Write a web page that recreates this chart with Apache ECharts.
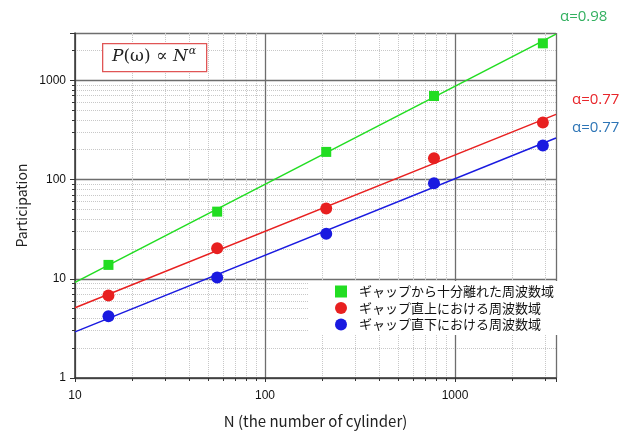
<!DOCTYPE html>
<html>
<head>
<meta charset="utf-8">
<script src="https://cdn.jsdelivr.net/npm/echarts@6/dist/echarts.min.js"></script>
<style>html,body{margin:0;padding:0;background:#fff;}#c{width:634px;height:434px;}</style>
</head>
<body>
<div id="c"></div>
<script>
// ---- data ----
var seriesNames = ['ギャップから十分離れた周波数域', 'ギャップ直上における周波数域', 'ギャップ直下における周波数域'];
var nValues = [15, 56, 210, 775, 2900];
var farValues = [13.8, 47.5, 190, 695, 2360];
var aboveValues = [6.8, 20.3, 51, 164, 375];
var belowValues = [4.2, 10.3, 28.5, 92, 220];
// fitted power-law lines (endpoints)
var fitN = [10, 3400];
var farFit = [9.2, 2920];
var aboveFit = [5.1, 454];
var belowFit = [2.92, 262];
var alphaLabels = ['α=0.98', 'α=0.77', 'α=0.77'];
var xTickValues = [10, 100, 1000];
var yTickValues = [1, 10, 100, 1000];

var colors = ['#22dd22', '#e82020', '#1a1ae0'];
var labelColors = ['#33b060', '#e8262b', '#2e75b6'];

function pairs(xs, ys) { return xs.map(function (x, i) { return [x, ys[i]]; }); }

var chart = echarts.init(document.getElementById('c'), null, {renderer: 'canvas'});
var axisFont = 'Liberation Sans, Arial, sans-serif';
var cjkFont = '"Noto Sans CJK JP", sans-serif';

var option = {
  backgroundColor: '#ffffff',
  animation: false,
  grid: {left: 75, right: 78, top: 33, bottom: 50, containLabel: false},
  xAxis: {
    type: 'log', logBase: 10, min: 10, max: 3400,
    name: 'N (the number of cylinder)', nameLocation: 'middle', nameGap: 36,
    nameTextStyle: {fontFamily: cjkFont, fontSize: 15, color: '#222'},
    axisLine: {show: true, lineStyle: {color: '#333', width: 1.5}},
    axisTick: {show: true, inside: false, length: 4, lineStyle: {color: '#333'}},
    minorTick: {show: true, splitNumber: 9, length: 3, lineStyle: {color: '#333'}},
    splitLine: {show: true, lineStyle: {color: '#6e6e6e', width: 1.3}},
    minorSplitLine: {show: true, lineStyle: {color: '#c8c8c8', type: 'dotted', width: 1}},
    axisLabel: {fontFamily: axisFont, fontSize: 12, color: '#111', margin: 12,
      formatter: function (v) { return xTickValues.indexOf(v) >= 0 ? String(v) : ''; }}
  },
  yAxis: {
    type: 'log', logBase: 10, min: 1, max: 3000,
    name: 'Participation', nameLocation: 'middle', nameGap: 46, nameRotate: 90,
    nameTextStyle: {fontFamily: cjkFont, fontSize: 14, color: '#222'},
    axisLine: {show: true, lineStyle: {color: '#333', width: 1.5}},
    axisTick: {show: true, inside: false, length: 5, lineStyle: {color: '#333'}},
    minorTick: {show: true, splitNumber: 9, length: 3, lineStyle: {color: '#333'}},
    splitLine: {show: true, lineStyle: {color: '#6e6e6e', width: 1.3}},
    minorSplitLine: {show: true, lineStyle: {color: '#c8c8c8', type: 'dotted', width: 1}},
    axisLabel: {fontFamily: axisFont, fontSize: 12, color: '#111', margin: 9,
      formatter: function (v) { return yTickValues.indexOf(v) >= 0 ? String(v) : ''; }}
  },
  legend: {
    data: [
      {name: seriesNames[0], icon: 'rect'},
      {name: seriesNames[1], icon: 'circle'},
      {name: seriesNames[2], icon: 'circle'}
    ],
    orient: 'vertical', left: 308, top: 281,
    backgroundColor: '#ffffff', padding: [4, 4, 4, 27],
    itemWidth: 12, itemHeight: 12, itemGap: 3.5,
    textStyle: {fontFamily: cjkFont, fontSize: 13, color: '#111', padding: [0, 0, 0, 7]}
  },
  series: [
    {type: 'line', data: pairs(fitN, farFit), showSymbol: false, symbol: 'none', silent: true,
      lineStyle: {color: colors[0], width: 1.5}, z: 2},
    {type: 'line', data: pairs(fitN, aboveFit), showSymbol: false, symbol: 'none', silent: true,
      lineStyle: {color: colors[1], width: 1.5}, z: 2},
    {type: 'line', data: pairs(fitN, belowFit), showSymbol: false, symbol: 'none', silent: true,
      lineStyle: {color: colors[2], width: 1.5}, z: 2},
    {name: seriesNames[0], type: 'scatter', symbol: 'rect', symbolSize: 10,
      itemStyle: {color: colors[0], opacity: 1}, data: pairs(nValues, farValues), z: 3},
    {name: seriesNames[1], type: 'scatter', symbol: 'circle', symbolSize: 12,
      itemStyle: {color: colors[1], opacity: 1}, data: pairs(nValues, aboveValues), z: 3},
    {name: seriesNames[2], type: 'scatter', symbol: 'circle', symbolSize: 12,
      itemStyle: {color: colors[2], opacity: 1}, data: pairs(nValues, belowValues), z: 3}
  ],
  graphic: [
    {type: 'rect', left: 102, top: 43, shape: {width: 104, height: 28},
      style: {fill: '#fff', stroke: '#e05555', lineWidth: 1.3}, z: 10},
    {type: 'text', left: 112, top: 46, z: 11,
      style: {
        text: '{i|P}{u|(ω) ∝ }{i|N}{s|α}',
        rich: {
          i: {fontFamily: '"DejaVu Serif", "Liberation Serif", serif', fontStyle: 'italic', fontSize: 17, fill: '#222'},
          u: {fontFamily: '"DejaVu Serif", "Liberation Serif", serif', fontSize: 17, fill: '#222'},
          s: {fontFamily: '"DejaVu Serif", "Liberation Serif", serif', fontStyle: 'italic', fontSize: 11, fill: '#222', verticalAlign: 'top', padding: [0, 0, 10, 1]}
        }
      }},
    {type: 'text', left: 560, top: 9, style: {text: alphaLabels[0], fill: labelColors[0], fontSize: 15, fontFamily: '"Open Sans", sans-serif'}},
    {type: 'text', left: 572, top: 92, style: {text: alphaLabels[1], fill: labelColors[1], fontSize: 15, fontFamily: '"Open Sans", sans-serif'}},
    {type: 'text', left: 572, top: 120, style: {text: alphaLabels[2], fill: labelColors[2], fontSize: 15, fontFamily: '"Open Sans", sans-serif'}}
  ]
};
chart.setOption(option);
</script>
</body>
</html>
